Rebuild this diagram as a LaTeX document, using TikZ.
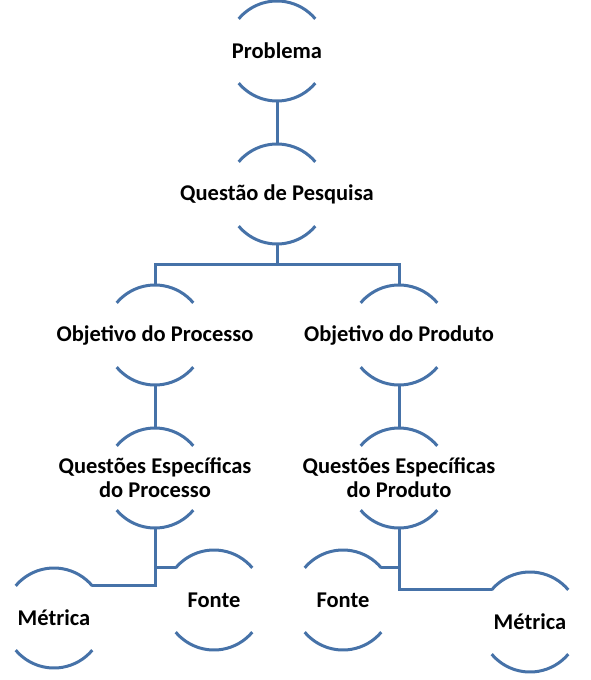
\documentclass[tikz,border=0pt]{standalone}
\usepackage{fontspec}
\setmainfont{Carlito}
\definecolor{archblue}{RGB}{70,114,168}
\tikzset{
  arcline/.style={draw=archblue, line width=3pt},
  conn/.style={draw=archblue, line width=3pt},
  archtext/.style={font=\fontsize{22.5}{24}\selectfont\bfseries, align=center, inner sep=0pt, text=black},
}
\newcommand\archnode[3]{%
  \node[archtext] (#1) at (#2) {#3};
  \coordinate (#1-t) at ([yshift=50pt]#1.center);
  \coordinate (#1-b) at ([yshift=-50pt]#1.center);
  \coordinate (#1-tl) at ([shift={(140:50pt)}]#1.center);
  \coordinate (#1-tr) at ([shift={(40:50pt)}]#1.center);
  \coordinate (#1-bl) at ([shift={(220:50pt)}]#1.center);
  \draw[arcline] (#1-tl) arc[start angle=140, end angle=40, radius=50pt];
  \draw[arcline] (#1-bl) arc[start angle=220, end angle=320, radius=50pt];
}
\begin{document}
\begin{tikzpicture}[x=1pt,y=1pt]
\useasboundingbox (0,0) rectangle (590,-680);
\archnode{prob}{277,-51}{Problema}
\archnode{qp}{277,-194}{Questão de Pesquisa}
\archnode{opc}{155,-335}{Objetivo do Processo}
\archnode{opd}{399,-335}{Objetivo do Produto}
\archnode{qec}{155,-478}{Questões Específicas\\do Processo}
\archnode{qed}{399,-478}{Questões Específicas\\do Produto}
\archnode{ml}{54,-618}{Métrica}
\archnode{fl}{214,-600}{Fonte}
\archnode{fr}{343,-600}{Fonte}
\archnode{mr}{530,-622}{Métrica}
\coordinate (j1) at (277,-264);
\draw[conn] (prob-b) -- (qp-t);
\draw[conn] (qp-b) -- (j1) -| (opc-t);
\draw[conn] (j1) -| (opd-t);
\draw[conn] (opc-b) -- (qec-t);
\draw[conn] (opd-b) -- (qed-t);
\draw[conn] (qec-b) |- (ml-tr);
\draw[conn] (qec-b) |- (fl-tl);
\draw[conn] (qed-b) |- (fr-tr);
\draw[conn] (qed-b) |- (mr-tl);
\end{tikzpicture}
\end{document}
